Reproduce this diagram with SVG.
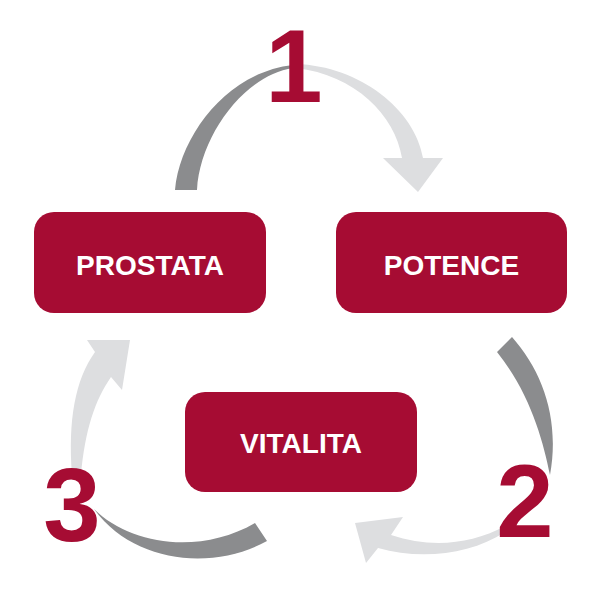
<svg xmlns="http://www.w3.org/2000/svg" width="600" height="600" viewBox="0 0 600 600">
  <style>
    .box { fill: #a60c33; }
    .lbl { fill: #ffffff; font-family: "Liberation Sans", Arial, sans-serif; font-weight: bold; font-size: 28px; text-anchor: middle; }
    .dark { fill: #8b8c8e; }
    .light { fill: #dddee0; }
    .num { fill: #a60c33; font-family: "Liberation Sans", Arial, sans-serif; font-weight: bold; font-size: 103px; text-anchor: middle; }
  </style>
  <rect width="600" height="600" fill="#ffffff"/>
  <g id="connectors">
    <path class="dark" d="M175,190 C180,135 228,72 293,65 L293,68 C245,75 200,135 197,190 Z"/>
    <path class="light" d="M296,64 C360,66 415,110 423,158 L443,158 L418,192 L383,158 L402,158 C395,115 355,75 296,68 Z"/>
    <path class="dark" d="M497,352 L512,337 C543,372 560,420 550,475 C543,440 530,393 497,352 Z"/>
    <path class="light" d="M505,526 C470,545 430,548 391,535 L403,517 L355,523 L366,563 L378,548 C420,560 470,555 505,532 Z"/>
    <path class="dark" d="M94,509 C130,545 200,555 255,523 L267,541 C215,570 135,565 94,509 Z"/>
    <path class="light" d="M72,475 C68,420 75,380 95,352 L87,340 L130,340 L122,390 L111,377 C95,400 85,430 81,475 Z"/>
    <g id="labels">
      <text class="num" x="294" y="102">1</text>
      <text class="num" x="525" y="537">2</text>
      <text class="num" x="72" y="541">3</text>
    </g>
  </g>
  <g id="node-prostata">
    <rect class="box" x="34" y="212" width="232" height="101" rx="20"/>
    <text class="lbl" x="150" y="275">PROSTATA</text>
  </g>
  <g id="node-potence">
    <rect class="box" x="336" y="212" width="231" height="101" rx="20"/>
    <text class="lbl" x="451.5" y="275">POTENCE</text>
  </g>
  <g id="node-vitalita">
    <rect class="box" x="185" y="392" width="232" height="100" rx="20"/>
    <text class="lbl" x="301" y="453">VITALITA</text>
  </g>
</svg>
